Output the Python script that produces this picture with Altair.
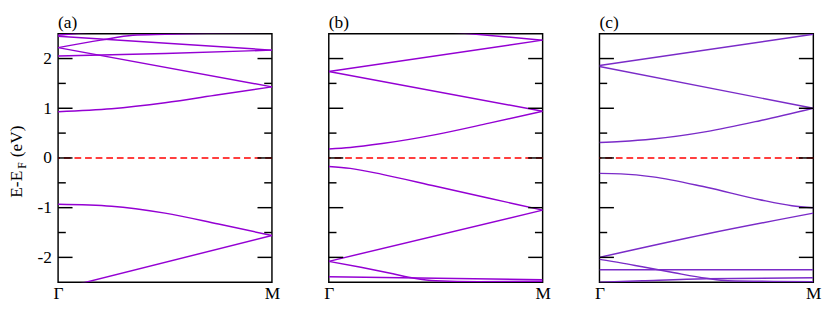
import altair as alt
import pandas as pd

FONT = "Liberation Serif, Times New Roman, DejaVu Serif, Liberation Sans, sans-serif"

# ---- data (k: 0 = Gamma, 1 = M ; E - E_F in eV) ----
panel_labels = ["(a)", "(b)", "(c)"]
x_tick_labels = ["Γ", "M"]
y_major = [-2, -1, 0, 1, 2]
y_minor = [-1.5, -0.5, 0.5, 1.5]

bands_a = {
    "a1": ([0, 0.25, 0.5, 0.75, 1], [-0.93, -0.97, -1.11, -1.33, -1.56]),
    "a2": ([0, 1], [-2.64, -1.56]),
    "a3": ([0, 0.25, 0.5, 0.75, 1], [0.93, 0.99, 1.11, 1.27, 1.43]),
    "a4": ([0, 1], [2.22, 1.43]),
    "a5": ([0, 0.5, 1], [2.05, 2.10, 2.17]),
    "a6": ([0, 1], [2.45, 2.17]),
    "a7": ([0, 0.2, 0.35, 0.5, 0.7, 1], [2.22, 2.37, 2.47, 2.49, 2.51, 2.53]),
    "a8": ([0, 0.15], [2.47, 2.53]),
}
bands_b = {
    "b1": ([0, 0.1, 0.25, 0.5, 0.75, 1], [-0.17, -0.21, -0.33, -0.57, -0.81, -1.05]),
    "b2": ([0, 1], [-2.08, -1.05]),
    "b3": ([0, 0.15, 0.3, 0.4, 0.5, 0.7, 1], [-2.08, -2.20, -2.33, -2.42, -2.47, -2.49, -2.48]),
    "b4": ([0, 1], [-2.39, -2.45]),
    "b5": ([0, 0.1, 0.25, 0.5, 0.75, 1], [0.18, 0.21, 0.29, 0.47, 0.70, 0.94]),
    "b6": ([0, 1], [1.74, 0.94]),
    "b7": ([0, 1], [1.74, 2.37]),
    "b8": ([0.5, 1], [2.56, 2.37]),
}
bands_c = {
    "c1": ([0, 0.1, 0.25, 0.5, 0.75, 0.9, 1], [-0.31, -0.32, -0.38, -0.59, -0.84, -0.96, -1.0]),
    "c2": ([0, 0.5, 1], [-2.0, -1.53, -1.11]),
    "c3": ([0, 0.1, 0.2, 0.35, 0.5, 0.6, 1], [-2.04, -2.11, -2.19, -2.31, -2.42, -2.47, -2.49]),
    "c4": ([0, 1], [-2.25, -2.25]),
    "c5": ([0, 0.2, 0.5, 1], [-2.50, -2.47, -2.43, -2.41]),
    "c6": ([0, 0.1, 0.25, 0.5, 0.75, 1], [0.31, 0.33, 0.38, 0.53, 0.75, 1.0]),
    "c7": ([0, 1], [1.84, 1.0]),
    "c8": ([0, 1], [1.86, 2.49]),
}
panel_colors = ["#9400D3", "#9400D3", "#7A2BC8"]

W, H = 222, 258
FS = 18
TICK_MAJOR, TICK_MINOR = 15, 8


def to_df(bands):
    rows = []
    for name, (ks, es) in bands.items():
        for k, e in zip(ks, es):
            rows.append({"band": name, "k": k, "E": e})
    return pd.DataFrame(rows)


yscale = alt.Scale(domain=[-2.5, 2.5], nice=False, zero=False)
xscale = alt.Scale(domain=[0, 1], nice=False, zero=False)


def tick_rules(values, x0, x1):
    return alt.Chart(pd.DataFrame({"E": values})).mark_rule(
        color="black", strokeWidth=1.5
    ).encode(
        y=alt.Y("E:Q", scale=yscale),
        x=alt.value(x0), x2=alt.value(x1),
    )


def panel(bands, color, label, first):
    df = to_df(bands)
    lines = alt.Chart(df).mark_line(
        clip=True, color=color, strokeWidth=1.5, interpolate="monotone"
    ).encode(
        x=alt.X("k:Q", scale=xscale, axis=alt.Axis(
            values=[0, 1],
            labelExpr=f"datum.value == 0 ? '{x_tick_labels[0]}' : '{x_tick_labels[1]}'",
            ticks=False, domain=False, grid=False, title=None, labelFlush=False,
            labelFont=FONT, labelFontSize=FS, labelColor="black", labelPadding=3)),
        y=alt.Y("E:Q", scale=yscale, axis=alt.Axis(
            values=y_major, labels=first, ticks=False, domain=False, grid=False,
            title=None, labelFont=FONT, labelFontSize=FS, labelColor="black",
            labelPadding=7, labelExpr="'' + datum.value")),
        detail="band:N",
    )
    zero = alt.Chart(pd.DataFrame({"E": [0]})).mark_rule(
        color="#FF0000", strokeDash=[7, 4], strokeWidth=1.5
    ).encode(y=alt.Y("E:Q", scale=yscale))

    layers = [
        zero, lines,
        tick_rules(y_major, 0, TICK_MAJOR),
        tick_rules(y_minor, 0, TICK_MINOR),
        tick_rules(y_major, W - TICK_MAJOR, W),
        tick_rules(y_minor, W - TICK_MINOR, W),
    ]
    if first:
        y0 = H * 0.66
        t1 = alt.Chart(pd.DataFrame({"t": ["E-E"]})).mark_text(
            angle=270, align="left", baseline="alphabetic", font=FONT, fontSize=FS, color="black"
        ).encode(text="t:N", x=alt.value(-37), y=alt.value(y0))
        t2 = alt.Chart(pd.DataFrame({"t": ["F"]})).mark_text(
            angle=270, align="left", baseline="alphabetic", font=FONT, fontSize=12, color="black"
        ).encode(text="t:N", x=alt.value(-33), y=alt.value(y0 - 30))
        t3 = alt.Chart(pd.DataFrame({"t": ["(eV)"]})).mark_text(
            angle=270, align="left", baseline="alphabetic", font=FONT, fontSize=FS, color="black"
        ).encode(text="t:N", x=alt.value(-37), y=alt.value(y0 - 42))
        layers += [t1, t2, t3]

    return alt.layer(*layers).properties(
        width=W, height=H,
        title=alt.TitleParams(label, anchor="start", frame="group", font=FONT, fontSize=FS,
                              fontWeight="normal", color="black", offset=2),
    )


chart = alt.hconcat(
    panel(bands_a, panel_colors[0], panel_labels[0], True),
    panel(bands_b, panel_colors[1], panel_labels[1], False),
    panel(bands_c, panel_colors[2], panel_labels[2], False),
    spacing=44,
).configure_view(stroke="black", strokeWidth=1.5).properties(
    padding={"left": 0, "top": 0, "right": 0, "bottom": -3}
)

chart.save("out.html", embed_options={"renderer": "svg", "actions": False})
